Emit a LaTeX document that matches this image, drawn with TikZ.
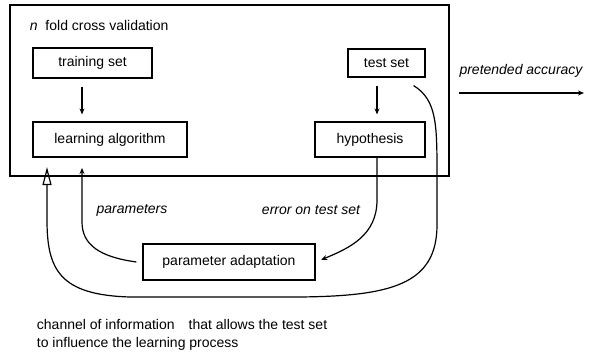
\documentclass[tikz,border=0pt]{standalone}
\usepackage{fontspec}
\setmainfont{Liberation Sans}
\usetikzlibrary{arrows.meta}
\begin{document}
\begin{tikzpicture}[x=1pt,y=-1pt,line width=1.2pt,
    box/.style={draw,inner sep=0pt,font=\fontsize{14}{16}\selectfont},
    lbl/.style={font=\fontsize{14}{16}\selectfont\itshape},
    flow/.style={-{Stealth[length=6pt,width=5pt]}},
    chan/.style={-{Triangle[open,length=18pt,width=9pt]}}]
  \useasboundingbox (0,0) rectangle (590,353);
  % outer box
  \node[box,minimum width=439pt,minimum height=171pt] (cv) at (229.5,90.5) {};
  \node[anchor=west,font=\fontsize{14}{16}\selectfont] (title) at (26,25) {\textit{n}\ \ fold cross validation};
  % boxes
  \node[box,minimum width=119pt,minimum height=30pt] (train) at (92.5,63) {training set};
  \node[box,minimum width=154pt,minimum height=35pt] (learn) at (110,139.5) {learning algorithm};
  \node[box,minimum width=77pt,minimum height=28pt] (test) at (386.5,63) {test set};
  \node[box,minimum width=110pt,minimum height=35pt] (hyp) at (370,139.5) {hypothesis};
  \node[box,minimum width=172pt,minimum height=36pt] (adapt) at (229,262) {parameter adaptation};
  % free ends
  \coordinate (acc) at (584,93);
  \coordinate (parm) at (82,168);
  \coordinate (chn) at (47,167);
  % connectors
  \draw[flow,shorten <=8pt,shorten >=7pt] ([xshift=-10.5pt]train.south) -- ([xshift=-10.5pt]train.south |- learn.north);
  \draw[flow,shorten <=8pt,shorten >=7pt] ([xshift=-9.5pt]test.south) -- ([xshift=-9.5pt]test.south |- hyp.north);
  \draw[flow] ([shift={(9pt,-2.5pt)}]cv.east) -- (acc);
  \draw[flow,shorten >=6pt] ([xshift=7pt]hyp.south) -- (377,200)
    .. controls (377,235) and (350,248) .. (adapt.east);
  \draw[flow] ([xshift=-6pt]adapt.west) .. controls (100,257) and (82,245) .. (82,222) -- (parm);
  \draw[chan] ([shift={(-12pt,-8pt)}]test.south east) .. controls (437,100) and (437,125) .. (437,176)
    -- (437,225) .. controls (437,285) and (390,296) .. (300,297) -- (130,297)
    .. controls (60,295) and (47,270) .. (47,220) -- (chn);
  % labels
  \node[lbl] (acclbl) at (521,71) {pretended accuracy};
  \node[lbl] (parlbl) at (132,210) {parameters};
  \node[lbl] (errlbl) at (311,210) {error on test set};
  \node[anchor=north west,align=left,font=\fontsize{14}{18}\selectfont] (note) at (33,315)
    {channel of information\quad that allows the test set\\to influence the learning process};
\end{tikzpicture}
\end{document}
